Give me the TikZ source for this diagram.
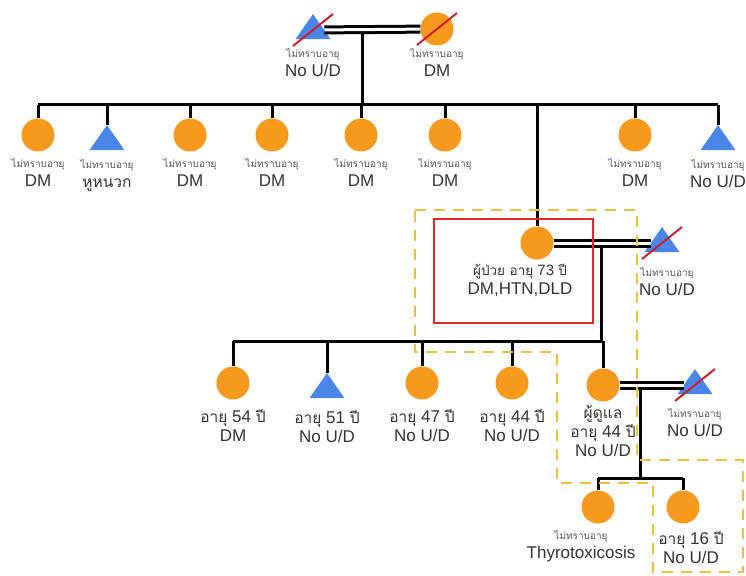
\documentclass[tikz,border=0pt]{standalone}
\usepackage{fontspec}
\setmainfont{Liberation Sans}
\newfontfamily\thaifont[Script=Thai]{Loma}
\usetikzlibrary{positioning,shapes.geometric}
\setlength{\lineskiplimit}{-100pt}

\definecolor{fem}{HTML}{F7991C}
\definecolor{mal}{HTML}{4A86E8}
\definecolor{slashred}{HTML}{C8202A}
\definecolor{boxred}{HTML}{E8262A}
\definecolor{hhyellow}{HTML}{F0C03A}
\definecolor{txt}{HTML}{333333}
\definecolor{agegray}{HTML}{555555}

\newcommand{\thtxt}[1]{{\thaifont\fontsize{15.5}{19}\selectfont #1}}
\newcommand{\thsm}[1]{{\thaifont\fontsize{13.5}{19}\selectfont #1}}
\newcommand{\agelbl}[1]{\thtxt{อายุ} #1 \thtxt{ปี}}
\newcommand{\unk}{{\thaifont\fontsize{10}{12}\selectfont\color{agegray}ไม่ทราบอายุ}}
\newcommand{\nud}{No U/D}

\begin{document}
\begin{tikzpicture}[x=1pt, y=-1pt,
    female/.style={circle, fill=fem, minimum size=33pt, inner sep=0pt},
    male/.style={isosceles triangle, isosceles triangle stretches, shape border rotate=90,
        fill=mal, minimum width=35pt, minimum height=25pt, inner sep=0pt},
    kin/.style={line width=3pt},
    couple/.style={line width=3pt, double=white, double distance=3pt},
    slash/.style={line width=2pt, slashred},
    lbl/.style={align=center, text=txt, inner sep=0pt, font=\fontsize{17}{19}\selectfont}]
    \useasboundingbox (0,0) rectangle (746,575);

    % grandparents
    \node[male] (gf) at (313,30) {};
    \node[female] (gm) at (437,29) {};
    \coordinate (gp) at (362,29);
    \coordinate (bar1) at (362,105);
    \node[lbl, below=9pt of gf] (gfl) {\unk\\\nud};
    \node[lbl, below=3pt of gm] (gml) {\unk\\DM};

    % siblings of the patient
    \foreach \i/\x/\y/\s/\b/\dx in {1/38/135/female/7/DM, 2/107/141/male/9/\thtxt{หูหนวก},
        3/190/135/female/7/DM, 4/272/135/female/7/DM, 5/361/135/female/7/DM,
        6/445/135/female/7/DM, 7/635/135/female/7/DM, 8/718/141/male/9/\nud} {
        \node[\s] (s\i) at (\x,\y) {};
        \node[lbl, below=\b pt of s\i] (s\i l) {\unk\\\dx};
    }

    % patient and spouse
    \node[female] (pt) at (537,243) {};
    \node[male] (sp) at (662,243) {};
    \coordinate (pj) at (601,243);
    \coordinate (bar2) at (601,341);
    \node[lbl, below=4pt of pt, xshift=-17pt] (ptl)
        {{\fontsize{15}{19}\selectfont\thsm{ผู้ป่วย อายุ} 73 \thsm{ปี}}\\DM,HTN,DLD};
    \node[lbl, below=15pt of sp, xshift=5pt] (spl) {\unk\\\nud};

    % children
    \foreach \i/\x/\y/\s/\b/\age/\dx in {1/233/383/female/9/54/DM, 2/327/389/male/12/51/\nud,
        3/422/383/female/9/47/\nud, 4/512/383/female/9/44/\nud} {
        \node[\s] (c\i) at (\x,\y) {};
        \node[lbl, below=\b pt of c\i] (c\i l) {\agelbl{\age}\\\dx};
    }

    % caregiver and spouse
    \node[female] (cg) at (603,385) {};
    \node[male] (cgsp) at (695,385) {};
    \coordinate (cj) at (640,385);
    \coordinate (bar3) at (640,478);
    \node[lbl, below=4pt of cg] (cgl) {\thtxt{ผู้ดูแล}\\\agelbl{44}\\\nud};
    \node[lbl, below=14pt of cgsp] (cgspl) {\unk\\\nud};

    % grandchildren
    \node[female] (g1) at (598,507) {};
    \node[female] (g2) at (683,507) {};
    \node[lbl, below=7pt of g1, xshift=-17pt] (g1l) {\unk\\Thyrotoxicosis};
    \node[lbl, below=7pt of g2, xshift=8pt] (g2l) {\agelbl{16}\\\nud};

    % lines of descent
    \draw[kin] (gp) -- (bar1);
    \draw[kin] (s1.north |- bar1) -- (s8.north |- bar1);
    \foreach \n in {s1,s2,s3,s4,s5,s6,s7,s8,pt}
        \draw[kin] (\n.north) -- (\n.north |- bar1);
    \draw[kin] (pj) -- (bar2);
    \draw[kin] (c1.north |- bar2) -- (cg.north |- bar2);
    \foreach \n in {c1,c2,c3,c4,cg}
        \draw[kin] (\n.north) -- (\n.north |- bar2);
    \draw[kin] (cj) -- (bar3);
    \draw[kin] (g1.north |- bar3) -- (g2.north |- bar3);
    \foreach \n in {g1,g2}
        \draw[kin] (\n.north) -- (\n.north |- bar3);

    % marriages
    \draw[couple] (gf) -- (gm);
    \draw[couple] (pt) -- (sp);
    \draw[couple] (cg) -- (cgsp);

    % deceased
    \foreach \n in {gf,gm,sp,cgsp}
        \draw[slash] ([shift={(-20,16)}]\n.center) -- ([shift={(20,-16)}]\n.center);

    % patient box and household
    \draw[boxred, line width=2pt] (434,219) rectangle (593,323);
    \draw[hhyellow, line width=2.5pt, dash pattern=on 11pt off 8pt]
        (415,210) -- (637,210) -- (637,460) -- (743,460) -- (743,572) -- (653,572)
        -- (653,483) -- (557,483) -- (557,352) -- (415,352) -- cycle;
\end{tikzpicture}
\end{document}
